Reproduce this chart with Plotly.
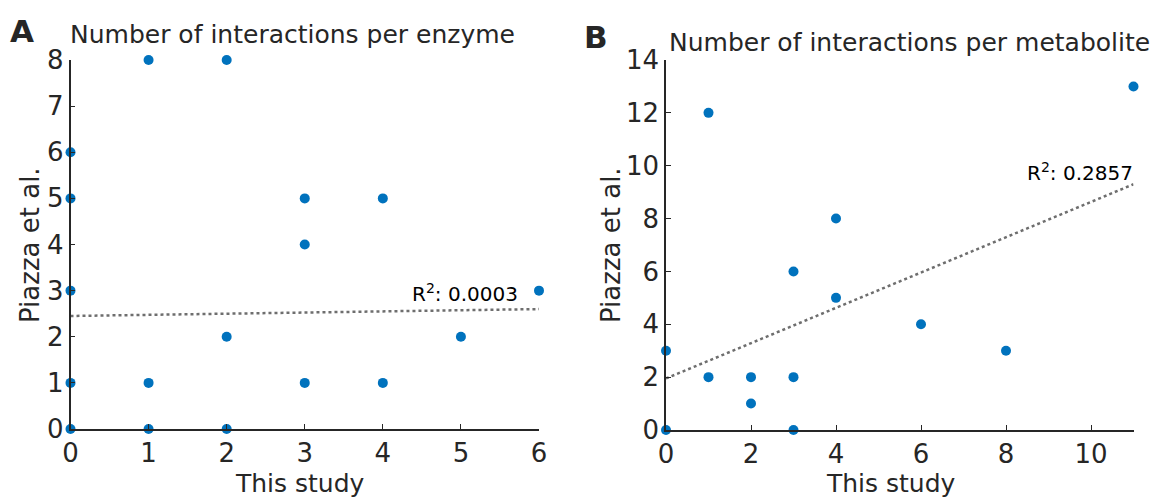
import plotly.graph_objects as go
import numpy as np

# ---- data ----
enz_this = [0, 0, 0, 0, 0, 1, 1, 1, 2, 2, 2, 3, 3, 3, 4, 4, 5, 6]
enz_piazza = [0, 1, 3, 5, 6, 8, 1, 0, 8, 2, 0, 5, 4, 1, 5, 1, 2, 3]
enz_fit = [2.45, 0.025]      # intercept, slope
enz_r2 = "0.0003"

met_this = [0, 0, 1, 1, 2, 2, 3, 3, 3, 4, 4, 6, 8, 11]
met_piazza = [0, 3, 2, 12, 2, 1, 6, 2, 0, 8, 5, 4, 3, 13]
met_fit = [1.95, 0.668]
met_r2 = "0.2857"

W, H = 1153, 498
def px(x):
    return x / W
def py(y):
    return 1 - y / H

FONT = "DejaVu Sans, Liberation Sans, Arial, sans-serif"
TXT = "#262626"
BLUE = "#0072BD"

fig = go.Figure()

# panel A
fig.add_trace(go.Scatter(x=enz_this, y=enz_piazza, mode="markers",
                         marker=dict(color=BLUE, size=10), cliponaxis=False,
                         xaxis="x", yaxis="y", showlegend=False))
xa = np.array([0, 6])
fig.add_trace(go.Scatter(x=xa, y=enz_fit[0] + enz_fit[1] * xa, mode="lines",
                         line=dict(color="#6e6e6e", width=2.5, dash="dot"),
                         xaxis="x", yaxis="y", showlegend=False))
# panel B
fig.add_trace(go.Scatter(x=met_this, y=met_piazza, mode="markers",
                         marker=dict(color=BLUE, size=10), cliponaxis=False,
                         xaxis="x2", yaxis="y2", showlegend=False))
xb = np.array([0, 11])
fig.add_trace(go.Scatter(x=xb, y=met_fit[0] + met_fit[1] * xb, mode="lines",
                         line=dict(color="#6e6e6e", width=2.5, dash="dot"),
                         xaxis="x2", yaxis="y2", showlegend=False))

axis_common = dict(showgrid=False, zeroline=False, showline=True, automargin=False,
                   linecolor=TXT, linewidth=1.5, ticks="inside", ticklen=5,
                   tickcolor=TXT, tickwidth=1.2,
                   tickfont=dict(family=FONT, size=26, color=TXT))

fig.update_layout(
    width=W, height=H,
    margin=dict(l=0, r=0, t=0, b=0, pad=0, autoexpand=False),
    paper_bgcolor="white", plot_bgcolor="white",
    xaxis=dict(domain=[px(70.5), px(539)], range=[0, 6], dtick=1, anchor="y", **axis_common),
    yaxis=dict(domain=[py(429), py(60)], range=[0, 8], dtick=1, anchor="x", **axis_common),
    xaxis2=dict(domain=[px(666), px(1133.5)], range=[0, 11], tickvals=[0, 2, 4, 6, 8, 10], anchor="y2", **axis_common),
    yaxis2=dict(domain=[py(430), py(60)], range=[0, 14], dtick=2, anchor="x2", **axis_common),
)

ann = []
def add_text(x, y, text, size, xanchor="left", yanchor="middle", angle=0, bold=False):
    ann.append(dict(x=x, y=y, xref="paper", yref="paper", text=("<b>%s</b>" % text) if bold else text,
                    showarrow=False, xanchor=xanchor, yanchor=yanchor, textangle=angle,
                    font=dict(family=FONT, size=size, color=TXT)))

add_text(px(8), py(31), "A", 31, bold=True)
add_text(px(582), py(37), "B", 31, bold=True)
add_text(px(68), py(35), "Number of interactions per enzyme", 25)
add_text(px(667), py(43), "Number of interactions per metabolite", 25)
add_text(px(300), py(483), "This study", 25, xanchor="center")
add_text(px(891), py(483), "This study", 25, xanchor="center")
add_text(px(30), py(245), "Piazza et al.", 26, xanchor="center", angle=-90)
add_text(px(611), py(245), "Piazza et al.", 26, xanchor="center", angle=-90)
ann.append(dict(x=5.76, y=2.95, xref="x", yref="y", showarrow=False, xanchor="right", yanchor="middle",
                text="R<sup>2</sup>: " + enz_r2, font=dict(family=FONT, size=20, color="black")))
ann.append(dict(x=8.45, y=9.75, xref="x2", yref="y2", showarrow=False, xanchor="left", yanchor="middle",
                text="R<sup>2</sup>: " + met_r2, font=dict(family=FONT, size=20, color="black")))
fig.update_layout(annotations=ann)

fig.write_html("out.html")
